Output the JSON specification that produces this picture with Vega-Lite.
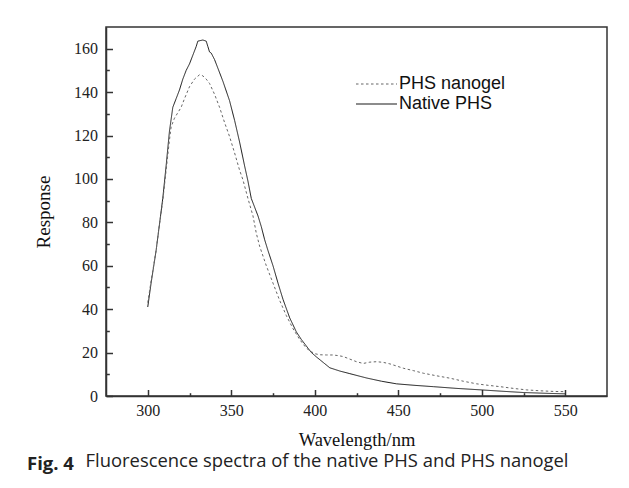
{
  "$schema": "https://vega.github.io/schema/vega-lite/v6.json",
  "width": 501,
  "height": 369,
  "autosize": {"type": "none"},
  "padding": {"left": 106, "top": 27, "right": 22, "bottom": 92},
  "background": "white",
  "config": {
    "view": {"stroke": "#333", "strokeWidth": 1.5},
    "font": "Liberation Serif"
  },
  "title": {
    "text": "Fig. 4",
    "subtitle": "\u2800\u2800\u2800\u2800\u00a0\u200aFluorescence spectra of the native PHS and PHS nanogel",
    "orient": "bottom",
    "anchor": "start",
    "frame": "group",
    "dx": -79,
    "offset": 6,
    "font": "Open Sans",
    "fontSize": 18.5,
    "fontWeight": "bold",
    "color": "#222",
    "subtitleFont": "Open Sans",
    "subtitleFontSize": 18.4,
    "subtitleFontWeight": "normal",
    "subtitleColor": "#222",
    "subtitlePadding": -21.5
  },
  "data": {
    "values": [
      {"series": "Native PHS", "wavelength": 300, "response": 41},
      {"series": "Native PHS", "wavelength": 302, "response": 52},
      {"series": "Native PHS", "wavelength": 305, "response": 67},
      {"series": "Native PHS", "wavelength": 307, "response": 79},
      {"series": "Native PHS", "wavelength": 309, "response": 91},
      {"series": "Native PHS", "wavelength": 311, "response": 106},
      {"series": "Native PHS", "wavelength": 313, "response": 122},
      {"series": "Native PHS", "wavelength": 315, "response": 133},
      {"series": "Native PHS", "wavelength": 317, "response": 137},
      {"series": "Native PHS", "wavelength": 319, "response": 141},
      {"series": "Native PHS", "wavelength": 321, "response": 146},
      {"series": "Native PHS", "wavelength": 323, "response": 150},
      {"series": "Native PHS", "wavelength": 325, "response": 153},
      {"series": "Native PHS", "wavelength": 327, "response": 157},
      {"series": "Native PHS", "wavelength": 329, "response": 161},
      {"series": "Native PHS", "wavelength": 330, "response": 163.5},
      {"series": "Native PHS", "wavelength": 333, "response": 164},
      {"series": "Native PHS", "wavelength": 335, "response": 163.5},
      {"series": "Native PHS", "wavelength": 336, "response": 161},
      {"series": "Native PHS", "wavelength": 337, "response": 158.5},
      {"series": "Native PHS", "wavelength": 338, "response": 158},
      {"series": "Native PHS", "wavelength": 340, "response": 155},
      {"series": "Native PHS", "wavelength": 342, "response": 151},
      {"series": "Native PHS", "wavelength": 345, "response": 145},
      {"series": "Native PHS", "wavelength": 349, "response": 136},
      {"series": "Native PHS", "wavelength": 352, "response": 127},
      {"series": "Native PHS", "wavelength": 355, "response": 117},
      {"series": "Native PHS", "wavelength": 358, "response": 106},
      {"series": "Native PHS", "wavelength": 360, "response": 99},
      {"series": "Native PHS", "wavelength": 362, "response": 91},
      {"series": "Native PHS", "wavelength": 364, "response": 87},
      {"series": "Native PHS", "wavelength": 366, "response": 83},
      {"series": "Native PHS", "wavelength": 368, "response": 78},
      {"series": "Native PHS", "wavelength": 370, "response": 72},
      {"series": "Native PHS", "wavelength": 372, "response": 67},
      {"series": "Native PHS", "wavelength": 375, "response": 60},
      {"series": "Native PHS", "wavelength": 378, "response": 52},
      {"series": "Native PHS", "wavelength": 381, "response": 44.5},
      {"series": "Native PHS", "wavelength": 385, "response": 36},
      {"series": "Native PHS", "wavelength": 389, "response": 29.5},
      {"series": "Native PHS", "wavelength": 392, "response": 26},
      {"series": "Native PHS", "wavelength": 395, "response": 23},
      {"series": "Native PHS", "wavelength": 398, "response": 20},
      {"series": "Native PHS", "wavelength": 401, "response": 18},
      {"series": "Native PHS", "wavelength": 405, "response": 15.5},
      {"series": "Native PHS", "wavelength": 409, "response": 13},
      {"series": "Native PHS", "wavelength": 415, "response": 11.5},
      {"series": "Native PHS", "wavelength": 421, "response": 10.3},
      {"series": "Native PHS", "wavelength": 431, "response": 8.3},
      {"series": "Native PHS", "wavelength": 440, "response": 6.8},
      {"series": "Native PHS", "wavelength": 449, "response": 5.6},
      {"series": "Native PHS", "wavelength": 460, "response": 4.9},
      {"series": "Native PHS", "wavelength": 471, "response": 4.3},
      {"series": "Native PHS", "wavelength": 485, "response": 3.5},
      {"series": "Native PHS", "wavelength": 500, "response": 2.8},
      {"series": "Native PHS", "wavelength": 512, "response": 2.2},
      {"series": "Native PHS", "wavelength": 525, "response": 1.6},
      {"series": "Native PHS", "wavelength": 540, "response": 1.2},
      {"series": "Native PHS", "wavelength": 550, "response": 1.0},
      {"series": "PHS nanogel", "wavelength": 300, "response": 43},
      {"series": "PHS nanogel", "wavelength": 302, "response": 53},
      {"series": "PHS nanogel", "wavelength": 305, "response": 67},
      {"series": "PHS nanogel", "wavelength": 307, "response": 79},
      {"series": "PHS nanogel", "wavelength": 309, "response": 90},
      {"series": "PHS nanogel", "wavelength": 311, "response": 104},
      {"series": "PHS nanogel", "wavelength": 313, "response": 118},
      {"series": "PHS nanogel", "wavelength": 314, "response": 124},
      {"series": "PHS nanogel", "wavelength": 316, "response": 128},
      {"series": "PHS nanogel", "wavelength": 318, "response": 130.5},
      {"series": "PHS nanogel", "wavelength": 320, "response": 133},
      {"series": "PHS nanogel", "wavelength": 322, "response": 137},
      {"series": "PHS nanogel", "wavelength": 325, "response": 142.5},
      {"series": "PHS nanogel", "wavelength": 328, "response": 146},
      {"series": "PHS nanogel", "wavelength": 331, "response": 148},
      {"series": "PHS nanogel", "wavelength": 333, "response": 147.5},
      {"series": "PHS nanogel", "wavelength": 335, "response": 146},
      {"series": "PHS nanogel", "wavelength": 337, "response": 144},
      {"series": "PHS nanogel", "wavelength": 340, "response": 139},
      {"series": "PHS nanogel", "wavelength": 343, "response": 133},
      {"series": "PHS nanogel", "wavelength": 346, "response": 126},
      {"series": "PHS nanogel", "wavelength": 349, "response": 119.5},
      {"series": "PHS nanogel", "wavelength": 352, "response": 112},
      {"series": "PHS nanogel", "wavelength": 355, "response": 104},
      {"series": "PHS nanogel", "wavelength": 357, "response": 99.6},
      {"series": "PHS nanogel", "wavelength": 360, "response": 91},
      {"series": "PHS nanogel", "wavelength": 363, "response": 83},
      {"series": "PHS nanogel", "wavelength": 365, "response": 75},
      {"series": "PHS nanogel", "wavelength": 367, "response": 69},
      {"series": "PHS nanogel", "wavelength": 371, "response": 60},
      {"series": "PHS nanogel", "wavelength": 375, "response": 52},
      {"series": "PHS nanogel", "wavelength": 379, "response": 44},
      {"series": "PHS nanogel", "wavelength": 383, "response": 37},
      {"series": "PHS nanogel", "wavelength": 387, "response": 31},
      {"series": "PHS nanogel", "wavelength": 391, "response": 26},
      {"series": "PHS nanogel", "wavelength": 395, "response": 22},
      {"series": "PHS nanogel", "wavelength": 398, "response": 20.4},
      {"series": "PHS nanogel", "wavelength": 400, "response": 19.5},
      {"series": "PHS nanogel", "wavelength": 403, "response": 19},
      {"series": "PHS nanogel", "wavelength": 407, "response": 18.9},
      {"series": "PHS nanogel", "wavelength": 411, "response": 18.9},
      {"series": "PHS nanogel", "wavelength": 414, "response": 18.6},
      {"series": "PHS nanogel", "wavelength": 417, "response": 18.2},
      {"series": "PHS nanogel", "wavelength": 421, "response": 17},
      {"series": "PHS nanogel", "wavelength": 425, "response": 15.8},
      {"series": "PHS nanogel", "wavelength": 429, "response": 15},
      {"series": "PHS nanogel", "wavelength": 433, "response": 15.6},
      {"series": "PHS nanogel", "wavelength": 437, "response": 15.8},
      {"series": "PHS nanogel", "wavelength": 441, "response": 15.5},
      {"series": "PHS nanogel", "wavelength": 445, "response": 14.8},
      {"series": "PHS nanogel", "wavelength": 449, "response": 13.8},
      {"series": "PHS nanogel", "wavelength": 453, "response": 12.8},
      {"series": "PHS nanogel", "wavelength": 459, "response": 11.7},
      {"series": "PHS nanogel", "wavelength": 465, "response": 10.5},
      {"series": "PHS nanogel", "wavelength": 473, "response": 9.3},
      {"series": "PHS nanogel", "wavelength": 481, "response": 8.2},
      {"series": "PHS nanogel", "wavelength": 489, "response": 6.8},
      {"series": "PHS nanogel", "wavelength": 497, "response": 5.6},
      {"series": "PHS nanogel", "wavelength": 504, "response": 4.9},
      {"series": "PHS nanogel", "wavelength": 511, "response": 4.3},
      {"series": "PHS nanogel", "wavelength": 519, "response": 3.5},
      {"series": "PHS nanogel", "wavelength": 527, "response": 2.8},
      {"series": "PHS nanogel", "wavelength": 535, "response": 2.4},
      {"series": "PHS nanogel", "wavelength": 543, "response": 2.1},
      {"series": "PHS nanogel", "wavelength": 550, "response": 2.0}
    ]
  },
  "layer": [
    {
      "mark": {"type": "line", "strokeWidth": 1},
      "encoding": {
        "x": {
          "field": "wavelength",
          "type": "quantitative",
          "scale": {"domain": [275, 575], "nice": false, "zero": false},
          "axis": {
            "orient": "bottom",
            "values": [300, 350, 400, 450, 500, 550],
            "tickSize": -6.5,
            "tickWidth": 1.5,
            "tickColor": "#333",
            "domainColor": "#333",
            "domainWidth": 1.5,
            "labelPadding": 13,
            "labelFont": "Liberation Serif",
            "labelFontSize": 16,
            "labelColor": "#222",
            "title": "Wavelength/nm",
            "titleFont": "Liberation Serif",
            "titleFontSize": 18.5,
            "titleFontWeight": "normal",
            "titleColor": "#111",
            "titlePadding": 12,
            "grid": false
          }
        },
        "y": {
          "field": "response",
          "type": "quantitative",
          "scale": {"domain": [0, 170], "nice": false},
          "axis": {
            "orient": "left",
            "values": [0, 20, 40, 60, 80, 100, 120, 140, 160],
            "tickSize": -6.5,
            "tickWidth": 1.5,
            "tickColor": "#333",
            "domainColor": "#333",
            "domainWidth": 1.5,
            "labelPadding": 15,
            "labelFont": "Liberation Serif",
            "labelFontSize": 16,
            "labelColor": "#222",
            "title": "Response",
            "titleFont": "Liberation Serif",
            "titleFontSize": 19,
            "titleFontWeight": "normal",
            "titleColor": "#111",
            "titlePadding": 20,
            "grid": false
          }
        },
        "color": {
          "field": "series",
          "type": "nominal",
          "scale": {"domain": ["PHS nanogel", "Native PHS"], "range": ["#666666", "#1a1a1a"]},
          "legend": {
            "orient": "none",
            "legendX": 249,
            "legendY": 48,
            "title": null,
            "symbolType": "stroke",
            "symbolSize": 1681,
            "symbolStrokeWidth": 1.2,
            "clipHeight": 18,
            "rowPadding": 2,
            "labelFont": "Liberation Sans",
            "labelFontSize": 18,
            "labelColor": "#111",
            "labelOffset": 1
          }
        },
        "strokeDash": {
          "field": "series",
          "type": "nominal",
          "scale": {"domain": ["PHS nanogel", "Native PHS"], "range": [[2.5, 2.5], [1, 0]]},
          "legend": {
            "orient": "none",
            "legendX": 249,
            "legendY": 48,
            "title": null,
            "symbolType": "stroke",
            "symbolSize": 1681,
            "symbolStrokeWidth": 1.2,
            "clipHeight": 18,
            "rowPadding": 2,
            "labelFont": "Liberation Sans",
            "labelFontSize": 18,
            "labelColor": "#111",
            "labelOffset": 1
          }
        }
      }
    },
    {
      "mark": {"type": "point", "opacity": 0},
      "encoding": {
        "x": {
          "field": "wavelength",
          "type": "quantitative",
          "axis": {
            "orient": "bottom",
            "values": [325, 375, 425, 475, 525],
            "tickSize": -3.3,
            "tickWidth": 1.5,
            "tickColor": "#333",
            "domain": false,
            "labels": false,
            "title": null,
            "grid": false
          }
        },
        "y": {
          "field": "response",
          "type": "quantitative",
          "axis": {
            "orient": "left",
            "values": [10, 30, 50, 70, 90, 110, 130, 150],
            "tickSize": -3.3,
            "tickWidth": 1.5,
            "tickColor": "#333",
            "domain": false,
            "labels": false,
            "title": null,
            "grid": false
          }
        }
      }
    }
  ],
  "resolve": {"axis": {"x": "independent", "y": "independent"}}
}
